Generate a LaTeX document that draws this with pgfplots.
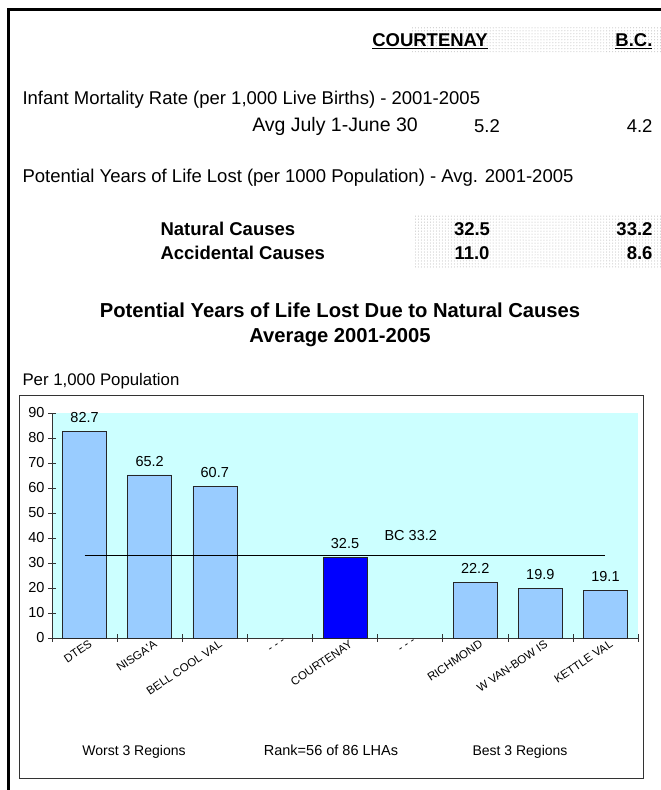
\documentclass[border=0pt]{standalone}
\usepackage{fontspec}
\setmainfont{Liberation Sans}
\usepackage{pgfplots}
\pgfplotsset{compat=1.18}
\usetikzlibrary{patterns}
\definecolor{barblue}{HTML}{99CCFF}
\definecolor{hiblue}{HTML}{0000FF}
\definecolor{plotbg}{HTML}{CCFFFF}
\newcommand{\fs}[1]{\fontsize{#1bp}{#1bp}\selectfont}

\begin{document}
\begin{tikzpicture}[x=1bp,y=1bp]
\useasboundingbox (0,0) rectangle (661,790);
% stippled cells of the header table
\fill[pattern=dots, pattern color=gray!60] (412,737) rectangle (661,763);
\fill[pattern=dots, pattern color=gray!60] (415,522) rectangle (661,574);
% thick page frame
\draw[line width=3bp] (8.5,-5) -- (8.5,780.5) -- (670,780.5);

% header table
\node[font=\fs{18.5}\bfseries] at (430,749) {\underline{COURTENAY}};
\node[font=\fs{18.5}\bfseries, anchor=east] at (656,749) {\underline{B.C.}};
\node[font=\fs{18.5}, anchor=west] at (19,690) {Infant Mortality Rate (per 1,000 Live Births) - 2001-2005};
\node[font=\fs{19.5}] at (335,664) {Avg July 1-June 30};
\node[font=\fs{18.5}] at (487,664) {5.2};
\node[font=\fs{18.5}, anchor=east] at (656,664) {4.2};
\node[font=\fs{18.5}, anchor=west] at (19,612) {Potential Years of Life Lost (per 1000 Population) - Avg. 2001-2005};
\node[font=\fs{18.5}\bfseries, anchor=west] at (157,561) {Natural Causes};
\node[font=\fs{18.5}\bfseries] at (472,561) {32.5};
\node[font=\fs{18.5}\bfseries, anchor=east] at (656,561) {33.2};
\node[font=\fs{18.5}\bfseries, anchor=west] at (157,537) {Accidental Causes};
\node[font=\fs{18.5}\bfseries] at (472,537) {11.0};
\node[font=\fs{18.5}\bfseries, anchor=east] at (656,537) {8.6};

% chart title
\node[font=\fs{20.2}\bfseries] at (340,480) {Potential Years of Life Lost Due to Natural Causes};
\node[font=\fs{20.2}\bfseries] at (340,452) {Average 2001-2005};
\node[font=\fs{16.8}, anchor=west] at (19,409) {Per 1,000 Population};

% chart box
\draw[black!80, line width=0.8bp] (19,12) rectangle (643,395);

\begin{axis}[
    at={(52bp,152bp)}, anchor=south west,
    width=586bp, height=225bp, scale only axis,
    xmin=-0.5, xmax=8.5, ymin=0, ymax=90,
    axis x line*=bottom, axis y line*=left,
    axis line style={-, black!80},
    axis background/.style={fill=plotbg},
    clip=false,
    xtick={-0.5,0.5,...,8.5}, xticklabel=\empty,
    extra x ticks={0,1,2,3,4,5,6,7,8},
    extra x tick labels={DTES, {NISGA\textquotesingle A}, BELL COOL VAL, - - -, COURTENAY, - - -, RICHMOND, W VAN-BOW IS, KETTLE VAL},
    extra x tick style={major tick length=0pt,
        tick label style={xshift=4bp, rotate=34, anchor=north east, font=\fs{11.5}, inner sep=1bp}},
    ytick={0,10,...,90},
    yticklabel style={font=\fs{14.5}},
    tick align=center, major tick length=8bp,
    tick style={black!80, thin},
    /pgf/number format/assume math mode=true,
    nodes near coords={\pgfmathprintnumber[fixed,fixed zerofill,precision=1]{\pgfplotspointmeta}},
    every node near coord/.append style={font=\fs{14.5}, text=black, yshift=5bp},
]
\addplot[ybar, bar width=44bp, bar shift=0pt, fill=barblue, draw=black!85]
    coordinates {(0,82.7) (1,65.2) (2,60.7) (6,22.2) (7,19.9) (8,19.1)};
\addplot[ybar, bar width=44bp, bar shift=0pt, fill=hiblue, draw=black!85]
    coordinates {(4,32.5)};
\addplot[black, thin, mark=none, nodes near coords=\empty] coordinates {(0,33.2) (8,33.2)};
\node[font=\fs{14.5}] at (axis cs:5.01,40.8) {BC 33.2};
\end{axis}

% group labels under the chart
\node[font=\fs{14}] at (134,38) {Worst 3 Regions};
\node[font=\fs{14.5}] at (331,40) {Rank=56 of 86 LHAs};
\node[font=\fs{14}] at (520,38) {Best 3 Regions};
\end{tikzpicture}
\end{document}
